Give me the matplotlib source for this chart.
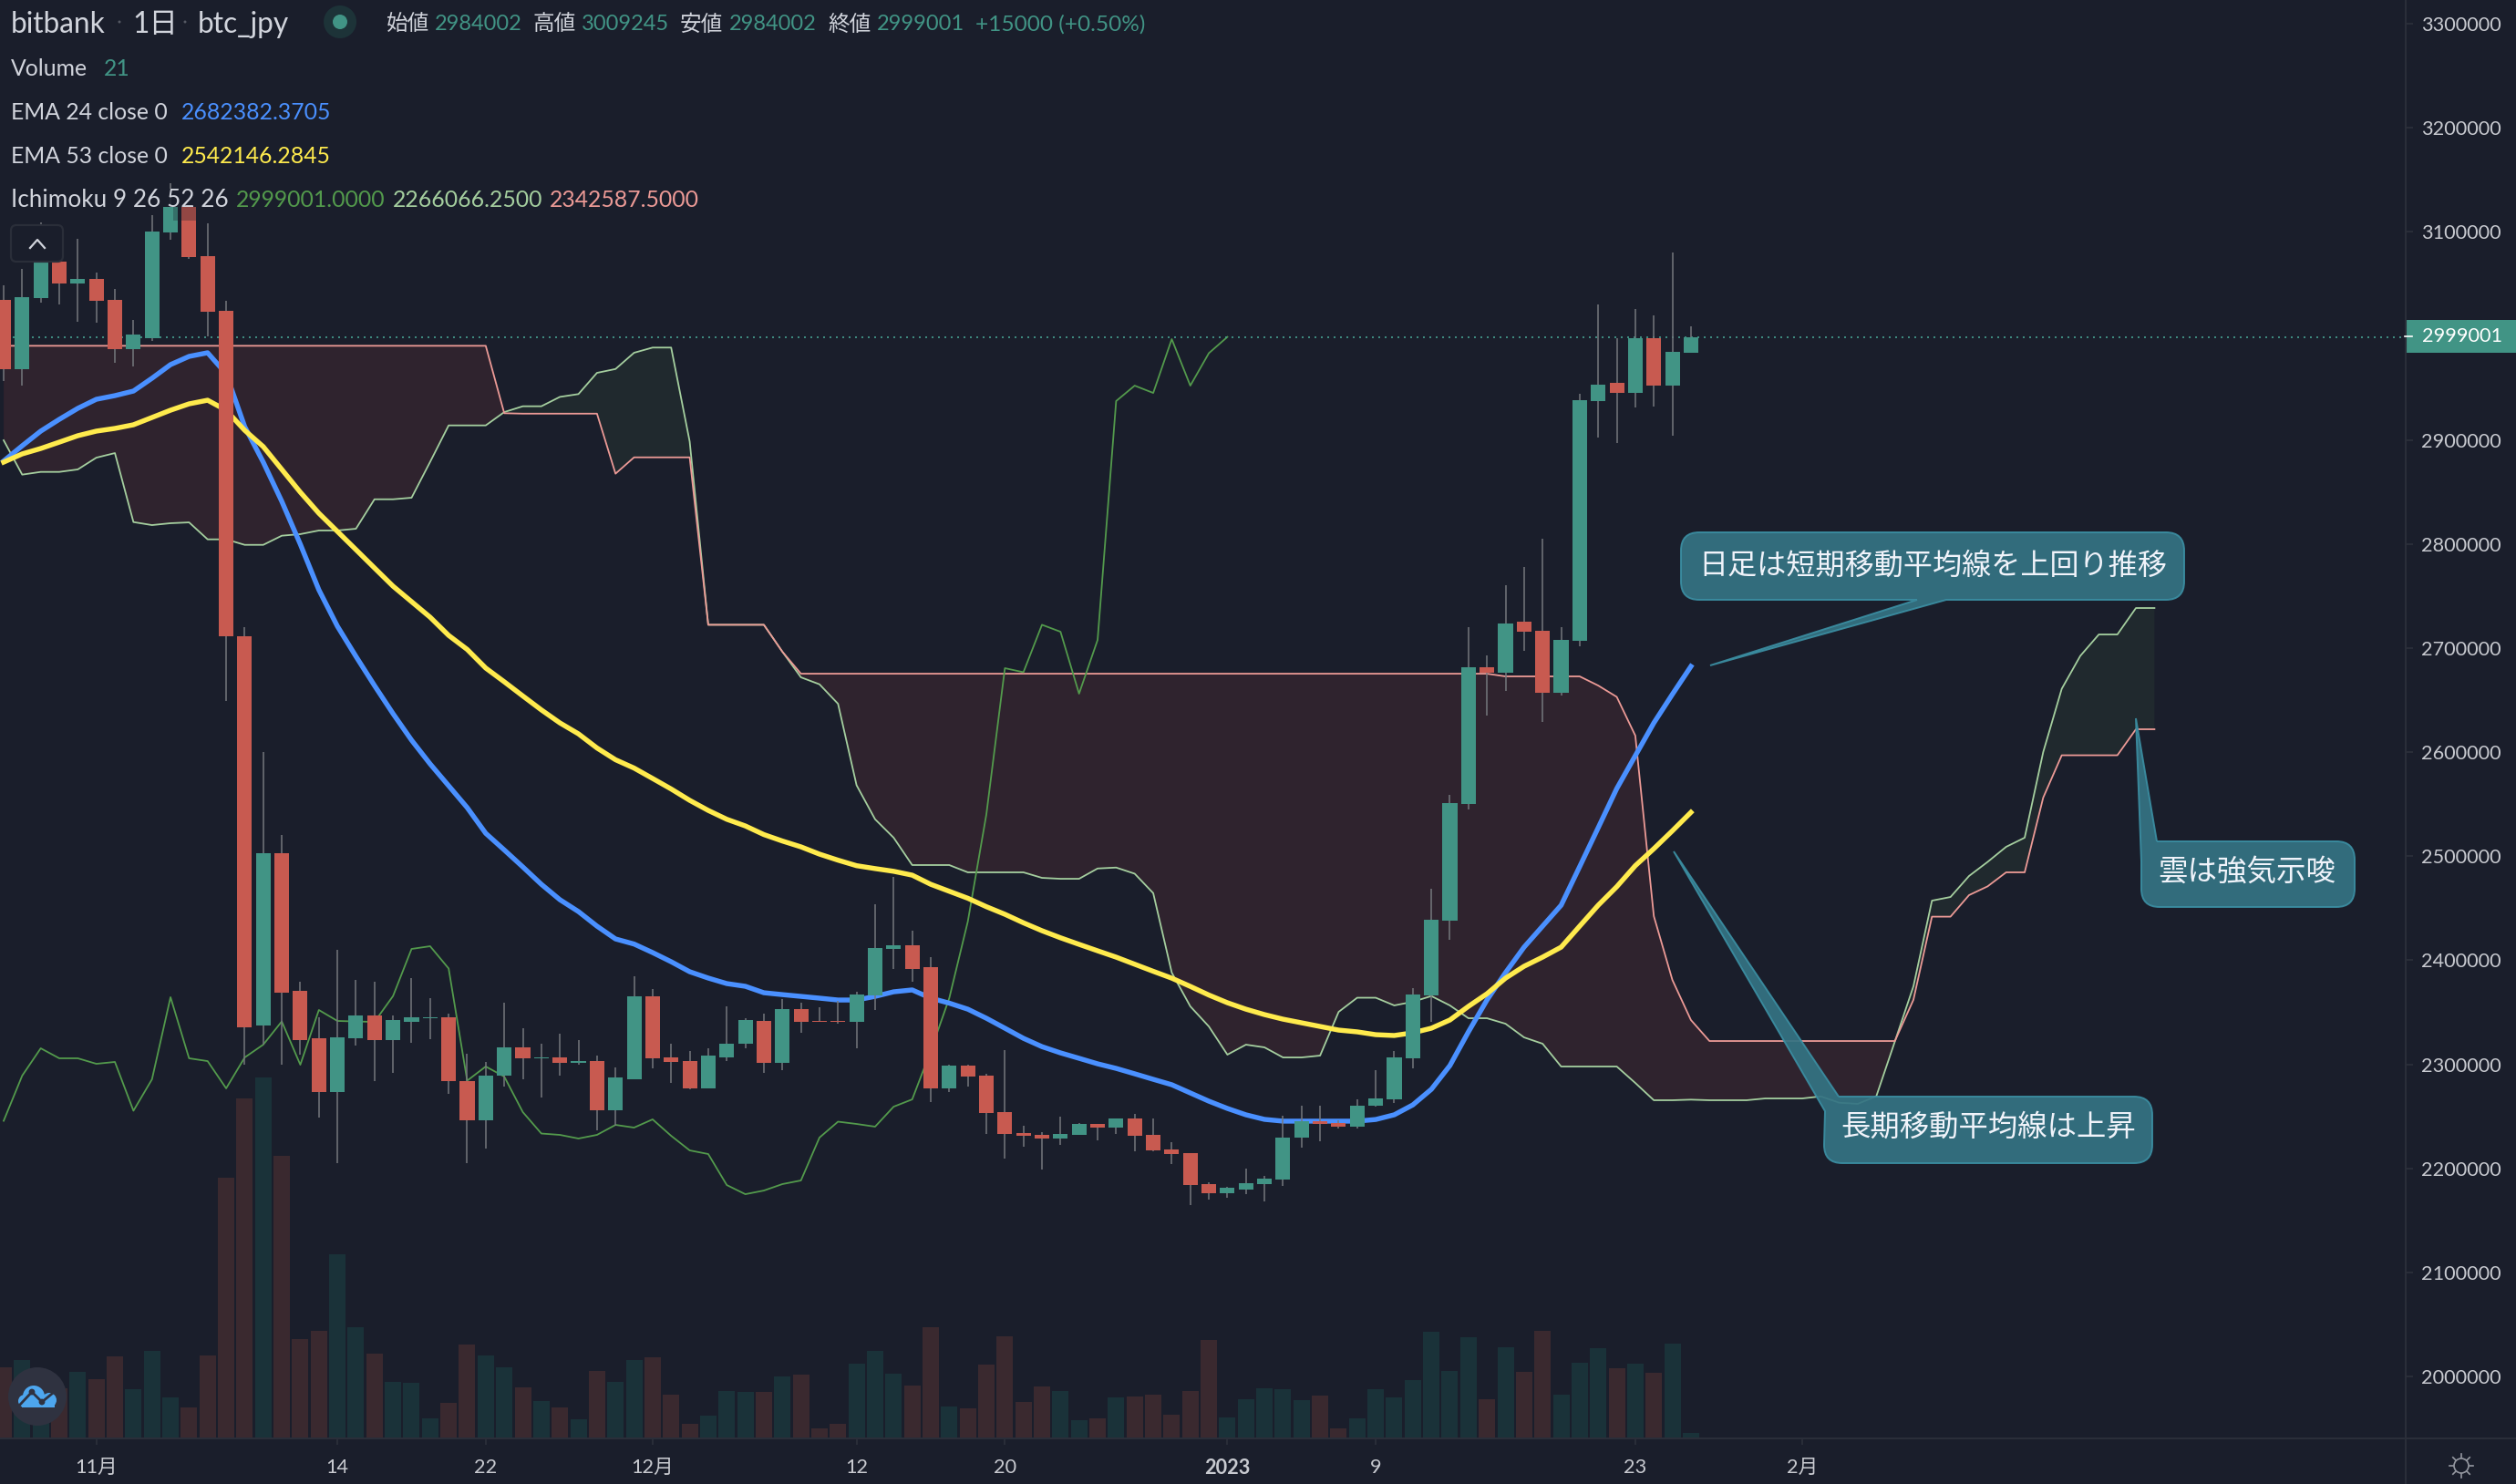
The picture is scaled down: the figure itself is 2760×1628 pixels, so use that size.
import numpy as np
import matplotlib
matplotlib.use("Agg")
import matplotlib.pyplot as plt
from matplotlib.patches import Circle, FancyBboxPatch, PathPatch, Rectangle
from matplotlib.path import Path

plt.rcParams['font.family'] = ['Lato', 'Noto Sans CJK JP', 'DejaVu Sans']

# daily candles, thousand yen
opens = [3035,2968,3036,3071,3050,3055,3035,2987,2998,3099,
         3124,3077,3024,2711,2337,2503,2371,2325,2273,2325,
         2347,2323,2341,2344,2345,2284,2246,2289,2316,2306,
         2307,2301,2303,2256,2286,2365,2307,2303,2277,2307,
         2320,2342,2301,2353,2342,2342,2341,2366,2411,2414,
         2393,2277,2299,2289,2254,2234,2232,2229,2232,2243,
         2239,2248,2232,2218,2215,2185,2176,2180,2185,2189,
         2230,2245,2244,2240,2260,2266,2306,2366,2438,2550,
         2682,2676,2725,2717,2657,2707,2937,2955,2945,2998,2952,2984.002]
highs = [3049,3064,3109,3086,3093,3061,3045,3015,3116,3147,
         3126,3108,3034,2720,2600,2520,2379,2345,2410,2381,
         2379,2347,2383,2364,2349,2310,2302,2359,2335,2320,
         2329,2323,2308,2297,2385,2372,2320,2313,2315,2356,
         2344,2349,2363,2359,2355,2361,2370,2454,2480,2428,
         2403,2300,2300,2291,2314,2241,2235,2250,2244,2243,
         2248,2252,2248,2225,2215,2187,2182,2200,2193,2251,
         2260,2260,2246,2266,2294,2313,2373,2469,2559,2720,
         2693,2760,2778,2805,2720,2944,3030,2998,3026,3020,3080,3009.245]
lows = [2957,2952,3032,3030,3014,3013,2974,2971,2995,3092,
        3074,3000,2649,2300,2319,2300,2309,2249,2205,2318,
        2284,2292,2321,2324,2272,2205,2219,2279,2286,2268,
        2289,2300,2237,2241,2286,2296,2282,2276,2277,2303,
        2315,2292,2294,2330,2341,2339,2315,2352,2392,2379,
        2264,2273,2279,2233,2209,2221,2199,2223,2232,2227,
        2233,2216,2216,2204,2165,2170,2172,2175,2168,2183,
        2220,2226,2238,2238,2259,2263,2296,2341,2420,2545,
        2635,2659,2697,2629,2654,2702,2902,2897,2931,2932,2904,2984.002]
closes = [2968,3037,3071,3050,3055,3034,2987,3001,3100,3124,
          3076,3023,2711,2336,2503,2369,2323,2273,2326,2347,
          2323,2343,2345,2345,2284,2246,2289,2316,2306,2307,
          2301,2303,2256,2287,2365,2306,2302,2277,2308,2320,
          2343,2301,2353,2341,2341,2341,2367,2412,2414,2392,
          2277,2299,2288,2253,2233,2231,2229,2233,2243,2239,
          2248,2231,2217,2214,2184,2176,2181,2186,2190,2230,
          2245,2243,2240,2260,2267,2307,2367,2439,2551,2682,
          2676,2724,2716,2657,2708,2938,2953,2945,2998,2952,2985,2999.001]
volumes = [273,301,192,192,257,228,315,189,336,158,
           119,319,1001,1305,1386,1086,382,413,707,427,
           325,216,213,76,137,361,319,273,195,143,
           119,73,258,216,301,312,167,55,88,182,
           179,179,237,245,39,55,286,336,249,203,
           427,122,115,283,392,140,200,182,70,76,
           158,161,167,91,182,377,80,150,192,189,
           146,164,39,76,189,158,224,410,258,388,
           150,349,255,413,167,291,346,270,286,252,364,21]

ema24 = [2879.8,2894.4,2908.5,2919.8,2930.4,2939.1,2942.6,2947,2959.3,2972.4,
         2980.3,2983.8,2963.6,2912.8,2878.7,2841,2799.8,2756,2721,2692,
         2664,2637,2611.5,2588.7,2567.7,2546.7,2522,2506,2489.7,2473,
         2458.2,2446.8,2432.8,2420.5,2415.6,2407.4,2398.6,2389,2382.9,2377.6,
         2375,2368.8,2367,2365.3,2363.6,2361.8,2361.8,2365.3,2369.7,2371.5,
         2363.6,2358.8,2353,2344.3,2334.7,2325,2317,2311,2305.8,2300.5,
         2296.1,2290.9,2285.6,2280.4,2272.5,2264.6,2257.6,2251.5,2247.1,2245.4,
         2245.4,2245.4,2245.4,2245.4,2247,2251.5,2261,2276,2298.8,2331.2,
         2361.8,2388.1,2412.6,2432.8,2452.9,2490,2527.4,2565,2596.6,2628.1,2655.6,2682.382]
ema53 = [2878.7,2886.6,2891.8,2897.9,2904.1,2908.5,2911.1,2914.6,2921.6,2928.6,
         2934.7,2938.2,2928.6,2909.3,2893.6,2871.7,2849.8,2829.6,2812.1,2794.6,
         2777,2759.5,2744.6,2729.7,2712.2,2698.7,2680.8,2667.6,2654,2640.6,
         2628.1,2617.6,2604,2592.7,2584.7,2574.7,2564.6,2553.7,2544,2535.5,
         2529.1,2520.8,2514.6,2509,2502,2496.2,2490.9,2488.1,2485.5,2481.8,
         2473,2466.3,2459.6,2451.5,2444.2,2436,2428.4,2421.6,2415.3,2409.1,
         2403,2396.2,2389.4,2382.8,2374.9,2366.6,2359.2,2353,2347.8,2343.4,
         2339.9,2336.4,2332.9,2331.2,2328.5,2327.7,2330.3,2334.7,2342.6,2355.7,
         2367.8,2382.8,2394.2,2403,2412.6,2432.8,2452.9,2470.7,2490.9,2507.2,2524.4,2542.146]

# ichimoku
span_a = [2899.7,2866.7,2869.3,2869.3,2871.7,2883,2887.4,2821.1,2818.2,2820,
          2820.8,2804.5,2804.5,2799.2,2799.2,2808,2809.5,2813,2813,2814.7,
          2843,2843,2844.5,2878.9,2914,2914,2914,2926.8,2932.4,2932.4,
          2941.4,2944.1,2964.5,2968.2,2983.8,2988.8,2988.8,2898.5,2722.4,2722.4,
          2722.4,2722.4,2696.5,2671.9,2665.2,2646.5,2568.2,2535.5,2517.8,2491.5,
          2491.5,2491.5,2484.5,2484.5,2484.5,2484.5,2479.2,2478.3,2478.3,2488.2,
          2489.1,2483.2,2464.5,2388.1,2355.7,2336.4,2309.3,2318.9,2316.3,2306.6,
          2306.6,2308.4,2350.4,2364,2364,2356.6,2360.1,2365.6,2356.6,2344.3,
          2344.3,2339,2325.9,2319.8,2297.9,2297.9,2297.9,2297.9,2282.1,2265.5,
          2265.5,2266.066,2265.5,2265.5,2265.5,2267.2,2267.2,2267.2,2269.2,2263.1,
          2262,2269.4,2322,2375,2457.3,2460.8,2481,2494.5,2509,2517.8,
          2600.1,2660.9,2692.5,2713.1,2713.1,2738.5,2738.5]
span_b = ([2990.5] * 27 + [2925.7] + [2925.3] * 5 + [2867.6] + [2883.3] * 4 + [2722.4] * 4
          + [2696.5] + [2675.4] * 38 + [2672.8] * 5
          + [2664,2653.1,2615.9,2442.4,2381.1,2342.588] + [2322.4] * 11
          + [2362,2441.9,2441.9,2462.6,2471,2484.5,2484.5,2556.3] + [2597] * 4 + [2622,2622])
chikou = [2245.7,2289.1,2315.4,2305.8,2305.8,2300.5,2302.3,2255.4,2285.6,2364.5,
          2305.8,2303.1,2276.9,2306.6,2318.9,2341.2,2299.6,2352.2,2341.7,2341.2,
          2340.8,2365.6,2410.9,2413.5,2392.1,2284.3,2297.9,2288.2,2254.1,2233.5,
          2232.2,2228.7,2232.2,2241.8,2239.2,2247.1,2231.3,2217.3,2213.8,2184,
          2175.2,2178.7,2184.9,2188.4,2229.6,2244.9,2242.7,2240.1,2259.3,2266.3,
          2312.8,2363.6,2437.2,2540.1,2680.7,2676.8,2722.4,2715.7,2656.2,2707.8,
          2937.4,2952.2,2945.2,2996.9,2952.2,2983.4,2999.001]

last_price = 2999.001
price_ticks = [2000,2100,2200,2300,2400,2500,2600,2700,2800,2900,3000,3100,3200,3300]
date_ticks = [5,18,26,35,46,54,66,74,88,97]
date_labels = ["11月","14","22","12月","12","20","2023","9","23","2月"]

BG = "#1a1e2b"
GRID = "#2a2e39"
UP = "#419485"
DOWN = "#c85a50"
UP_VOL = "#1a3239"
DOWN_VOL = "#3a292f"
WICK = "#75787d"
TEXT = "#d1d4dc"
CALL_FILL = "#347383"
CALL_EDGE = "#3b8ea2"

W, H = 2760, 1628
fig = plt.figure(figsize=(W / 200, H / 200), dpi=200, facecolor=BG)
rect = [0, 1 - 1578 / H, 2639 / W, 1578 / H]

vol_ax = fig.add_axes(rect, zorder=1, facecolor=BG)
ax = fig.add_axes(rect, zorder=2, facecolor="none", sharex=vol_ax)
ui = fig.add_axes([0, 0, 1, 1], zorder=3, facecolor="none")
ui.set_xlim(0, W)
ui.set_ylim(H, 0)
ui.axis("off")

# volume, scale is only there to keep the bars low in the pane
x = np.arange(len(closes))
o, h, l, c = map(np.array, (opens, highs, lows, closes))
rising = c >= o
vol_ax.bar(x, volumes, width=0.885, color=np.where(rising, UP_VOL, DOWN_VOL))
vol_ax.set_ylim(0, 5523)
vol_ax.axis("off")

# cloud
xs = np.arange(len(span_a))
a, b = np.array(span_a), np.array(span_b)
ax.fill_between(xs, a, b, where=a >= b, interpolate=True, color="#20292e", lw=0, zorder=1)
ax.fill_between(xs, a, b, where=a <= b, interpolate=True, color="#2f232e", lw=0, zorder=1)
ax.plot(xs, a, color="#a5cf9f", lw=0.65, zorder=2)
ax.plot(xs, b, color="#ec9a96", lw=0.65, zorder=2)
ax.plot(np.arange(len(chikou)), chikou, color="#539a4c", lw=0.65, zorder=2)

ax.plot(x, ema24, color="#4a90ff", lw=1.95, zorder=3)
ax.plot(x, ema53, color="#ffeb4d", lw=1.95, zorder=3)

ax.axhline(last_price, color="#46a090", lw=0.6, ls=(0, (1.2, 3.0)), zorder=3)

ax.vlines(x, l, h, color=WICK, lw=0.55, zorder=5)
ax.bar(x, np.abs(c - o), bottom=np.minimum(o, c), width=0.79,
       color=np.where(rising, UP, DOWN), zorder=6)

ax.set_xlim(-0.197, 129.55)
ax.set_ylim(1940.5, 3322.8)
ax.yaxis.tick_right()
ax.set_yticks(price_ticks)
ax.set_yticklabels([str(t * 1000) for t in price_ticks])
ax.set_xticks(date_ticks)
ax.set_xticklabels(date_labels)
ax.tick_params(axis="y", length=2.9, width=0.7, color=GRID, labelcolor="#c8cad0",
               labelsize=7.8, pad=3.2)
ax.tick_params(axis="x", length=2.6, width=0.7, color=GRID, labelcolor="#c8cad0",
               labelsize=7.8, pad=5.3)
ax.get_xticklabels()[6].set_fontweight("bold")
for s in ax.spines.values():
    s.set_visible(False)
vol_ax.tick_params(left=False, bottom=False)

# pane borders
ui.plot([2639, 2639], [0, H], color=GRID, lw=0.75)
ui.plot([0, W], [1578, 1578], color=GRID, lw=0.75)

# last price tag
ui.add_patch(Rectangle((2638, 351), W - 2638, 36, color=UP, lw=0))
ui.plot([2638, 2646], [369, 369], color="white", lw=0.6)
ui.text(2657, 369, "2999001", color="white", fontsize=7.8, va="center", ha="left")


def row(y, parts, size=8.9):
    for px, s, col in parts:
        ui.text(px, y, s, color=col, fontsize=size, va="center", ha="left")


# legend block
ui.add_patch(Rectangle((0, 207), 775, 20, color=BG, alpha=0.85, lw=0))
ui.add_patch(Rectangle((190, 227), 35, 15, color=BG, alpha=0.3, lw=0))
row(27, [(12, "bitbank", TEXT), (145, "1日", TEXT), (217, "btc_jpy", TEXT)], size=11.4)
ui.add_patch(Circle((131, 24), 1.5, color="#555964", lw=0))
ui.add_patch(Circle((203, 24), 1.5, color="#555964", lw=0))
ui.add_patch(Circle((373, 24), 18, color="#1d3338", lw=0))
ui.add_patch(Circle((373, 24), 8, color=UP, lw=0))
row(26.5, [(424, "始値", TEXT), (477, "2984002", UP), (585, "高値", TEXT), (638, "3009245", UP),
           (746, "安値", TEXT), (800, "2984002", UP), (908, "終値", TEXT), (962, "2999001", UP)],
    size=8.5)
row(26.5, [(1070, "+15000 (+0.50%)", UP)], size=8.8)
row(75.5, [(12, "Volume", TEXT), (114, "21", UP)])
row(123.5, [(12, "EMA 24 close 0", TEXT), (199, "2682382.3705", "#4a90ff")])
row(171.5, [(12, "EMA 53 close 0", TEXT), (199, "2542146.2845", "#ffeb4d")])
row(219.5, [(259, "2999001.0000", "#539a4c"), (431, "2266066.2500", "#a5cf9f"),
            (603, "2342587.5000", "#ec9a96")])
row(219.5, [(12, "Ichimoku 9 26 52 26", TEXT)], size=9.4)

# collapse button
ui.add_patch(FancyBboxPatch((15, 250), 51, 34, boxstyle="round,pad=3,rounding_size=6",
                            fc=BG, ec=GRID, lw=0.8, zorder=5))
ui.plot([33, 41, 49], [272, 263, 272], color=TEXT, lw=0.8, zorder=6)


def callout(x0, y0, x1, y1, tail, where, r=20):
    # one outline for box and tail, y grows downward here
    v = []
    cd = []

    def go(p, code=Path.LINETO):
        v.append(p)
        cd.append(code)

    def corner(p, e):
        go(p, Path.CURVE3)
        go(e, Path.CURVE3)

    if where == "bottom":
        go((x0 + r, y0), Path.MOVETO)
        go((x1 - r, y0))
        corner((x1, y0), (x1, y0 + r))
        go((x1, y1 - r))
        corner((x1, y1), (x1 - r, y1))
        for p in tail:
            go(p)
        go((x0 + r, y1))
        corner((x0, y1), (x0, y1 - r))
        go((x0, y0 + r))
        corner((x0, y0), (x0 + r, y0))
    else:
        # tail leaves from the top left corner
        go(tail[0], Path.MOVETO)
        go((x1 - r, y0))
        corner((x1, y0), (x1, y0 + r))
        go((x1, y1 - r))
        corner((x1, y1), (x1 - r, y1))
        go((x0 + r, y1))
        corner((x0, y1), (x0, y1 - r))
        go(tail[2])
        go(tail[1])
        go(tail[0])
    ui.add_patch(PathPatch(Path(v, cd), fc=CALL_FILL, ec=CALL_EDGE, lw=0.7, alpha=0.93, zorder=4))


callout(1844, 584, 2396, 658, [(2135, 658), (1876, 730), (2103, 658)], "bottom")
ui.text(2120, 620, "日足は短期移動平均線を上回り推移", color="#f0f3fa", fontsize=11.55,
        ha="center", va="center", zorder=5)
callout(2349, 923, 2583, 995, [(2366, 923), (2343, 788), (2349, 945)], "corner")
ui.text(2465, 956, "雲は強気示唆", color="#f0f3fa", fontsize=11.7,
        ha="center", va="center", zorder=5)
callout(2001, 1203, 2361, 1276, [(2017, 1203), (1836, 934), (2002, 1219)], "corner")
ui.text(2181, 1236, "長期移動平均線は上昇", color="#f0f3fa", fontsize=11.65,
        ha="center", va="center", zorder=5)

# tradingview logo
ui.add_patch(Circle((41, 1532), 32, color="#2f3240", lw=0, zorder=5))
for cx, cy, cr in [(37, 1532, 12), (27, 1537, 7), (54, 1536, 8)]:
    ui.add_patch(Circle((cx, cy), cr, color="#4da6ee", lw=0, zorder=6))
ui.add_patch(Rectangle((24, 1535), 36, 8.5, color="#4da6ee", lw=0, zorder=6))
ui.plot([21, 35, 46, 57], [1542, 1527, 1538, 1529], color="#2f3240", lw=1.0, zorder=7)
ui.add_patch(Circle((35, 1527), 3.4, color="#2f3240", lw=0, zorder=7))
ui.add_patch(Circle((46, 1538), 3.4, color="#2f3240", lw=0, zorder=7))

# settings icon
ui.add_patch(Circle((2700, 1608), 8, fc="none", ec="#9598a1", lw=0.6))
for ang in np.arange(8) * np.pi / 4:
    ui.plot([2700 + 9 * np.cos(ang), 2700 + 13 * np.cos(ang)],
            [1608 + 9 * np.sin(ang), 1608 + 13 * np.sin(ang)], color="#9598a1", lw=0.6)

fig.savefig("out.png", dpi=200, facecolor=BG)
